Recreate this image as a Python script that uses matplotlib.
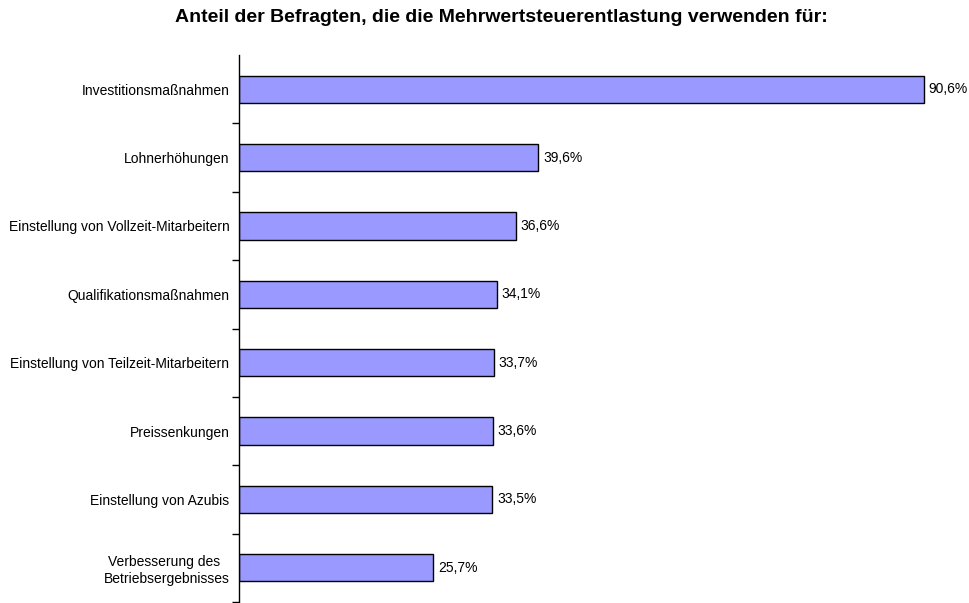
import numpy as np
import matplotlib
matplotlib.use("Agg")
from matplotlib import pyplot as plt

plt.rcParams['font.family'] = ['Liberation Sans', 'DejaVu Sans']

# Daten
categories = [
    "Investitionsmaßnahmen",
    "Lohnerhöhungen",
    "Einstellung von Vollzeit-Mitarbeitern",
    "Qualifikationsmaßnahmen",
    "Einstellung von Teilzeit-Mitarbeitern",
    "Preissenkungen",
    "Einstellung von Azubis",
    "Verbesserung des \nBetriebsergebnisses",
]
values = [90.6, 39.6, 36.6, 34.1, 33.7, 33.6, 33.5, 25.7]
value_labels = ["90,6%", "39,6%", "36,6%", "34,1%", "33,7%", "33,6%", "33,5%", "25,7%"]
title = "Anteil der Befragten, die die Mehrwertsteuerentlastung verwenden für:"

fig = plt.figure(figsize=(9.7, 6.03), dpi=100)
ax = fig.add_axes([239 / 970, 1 / 603, 1 - 239 / 970, 547 / 603])

y = np.arange(len(categories))
ax.barh(y, values, height=0.4, color="#9999FF", edgecolor="black", linewidth=1)

for yi, v, lab in zip(y, values, value_labels):
    ax.annotate(lab, (v, yi), xytext=(3.5, 0), textcoords="offset points",
                va="center", ha="left", fontsize=10)

ax.set_xlim(0, 96.7)
ax.set_ylim(len(categories) - 0.5, -0.5)

# Achse nur links
for side in ["top", "right", "bottom"]:
    ax.spines[side].set_visible(False)
ax.spines["left"].set_linewidth(1)
ax.set_xticks([])
ax.set_yticks(y)
ax.set_yticklabels(categories, fontsize=10, multialignment="center")
ax.tick_params(axis="y", which="major", length=0, pad=7)
ax.set_yticks(np.arange(len(categories)) + 0.5, minor=True)
ax.tick_params(axis="y", which="minor", length=5, width=1, direction="out")

fig.text(501 / 970, 1 - 18 / 603, title, ha="center", va="center",
         fontsize=14, fontweight="bold")

fig.savefig("out.png", dpi=100)
